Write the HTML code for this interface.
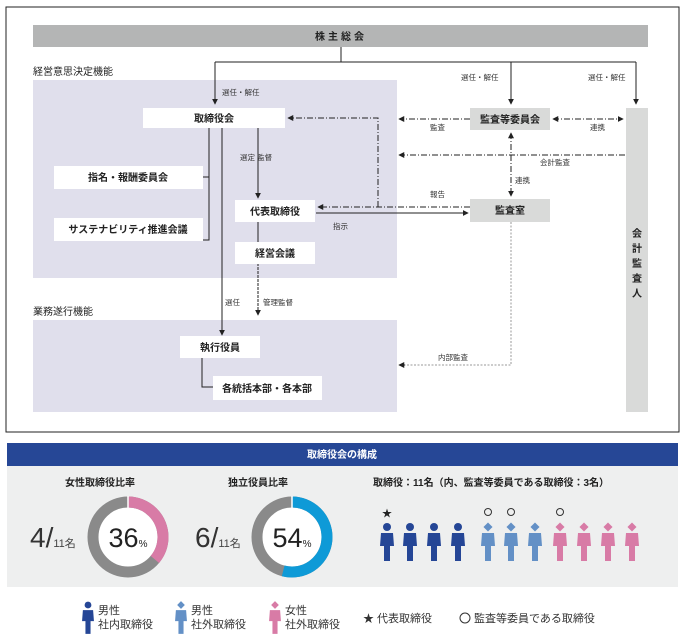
<!DOCTYPE html>
<html><head><meta charset="utf-8"><style>
body{margin:0;background:#fff;}
svg{display:block;font-family:"Liberation Sans","Noto Sans CJK JP",sans-serif;}
.b{font-size:10px;font-weight:bold;fill:#222;}
.s{font-size:7.5px;fill:#333;}
</style></head><body>
<svg width="685" height="639" viewBox="0 0 685 639" xmlns="http://www.w3.org/2000/svg">
<defs>
<marker id="a" viewBox="0 0 8 8" refX="7" refY="4" markerWidth="6" markerHeight="6" orient="auto-start-reverse"><path d="M0,0L8,4L0,8z" fill="#222"/></marker>
<g id="pm"><circle cx="0" cy="0" r="4"/><path d="M-6,6h12l1,13h-4v15h-6v-15h-4z"/></g>
<g id="pd"><rect x="-3.2" y="-3.2" width="6.4" height="6.4" transform="rotate(45)"/><path d="M-6,6h12l1,13h-4v15h-6v-15h-4z"/></g>
</defs>
<rect x="6" y="7" width="673" height="425" fill="#fff" stroke="#222" stroke-width="1"/>
<rect x="33" y="25" width="615" height="22" fill="#b4b5b5"/>
<text x="341" y="40" class="b" text-anchor="middle" letter-spacing="3">株主総会</text>
<rect x="33" y="80" width="364" height="198" fill="#e0dfec"/>
<rect x="33" y="320" width="364" height="92" fill="#e0dfec"/>
<text x="33" y="75" class="b" style="font-weight:normal">経営意思決定機能</text>
<text x="33" y="315" class="b" style="font-weight:normal">業務遂行機能</text>
<rect x="626" y="108" width="22" height="304" fill="#d9dad9"/>
<text class="b" text-anchor="middle"><tspan x="637" y="237">会</tspan><tspan x="637" y="252">計</tspan><tspan x="637" y="267">監</tspan><tspan x="637" y="282">査</tspan><tspan x="637" y="297">人</tspan></text>
<g fill="none" stroke="#222" stroke-width="1">
<path d="M341,47V62M215,62H636"/>
<path d="M215,62V104" marker-end="url(#a)"/>
<path d="M511,62V104" marker-end="url(#a)"/>
<path d="M636,62V104" marker-end="url(#a)"/>
<path d="M470,119H399" stroke-dasharray="6,2,1,2" marker-end="url(#a)"/>
<path d="M553,119H623" stroke-dasharray="6,2,1,2" marker-start="url(#a)" marker-end="url(#a)"/>
<path d="M625,155H399" stroke-dasharray="6,2,1,2" marker-end="url(#a)"/>
<path d="M511,133V196" stroke-dasharray="6,2,1,2" marker-start="url(#a)" marker-end="url(#a)"/>
<path d="M470,207H318" stroke-dasharray="6,2,1,2" marker-end="url(#a)"/>
<path d="M378,207V118H288" stroke-dasharray="6,2,1,2" marker-end="url(#a)"/>
<path d="M316,213H468" marker-end="url(#a)"/>
<path d="M258,128V198" marker-end="url(#a)"/>
<path d="M258,222V243"/>
<path d="M258,263V315" stroke-dasharray="3,1" marker-end="url(#a)"/>
<path d="M209,128V240H203M209,177H203"/>
<path d="M222,128V335" marker-end="url(#a)"/>
<path d="M202,358V387H213"/>
<path d="M511,222V365H399" stroke="#999" stroke-dasharray="2,1.5"/>
<path d="M405,365H399" marker-end="url(#a)"/>
</g>
<rect x="143" y="108" width="142" height="20" fill="#fff"/><text x="214" y="122" class="b" text-anchor="middle">取締役会</text>
<rect x="470" y="108" width="80" height="22" fill="#d9dad9"/><text x="510" y="123" class="b" text-anchor="middle">監査等委員会</text>
<rect x="54" y="166" width="149" height="23" fill="#fff"/><text x="128" y="181" class="b" text-anchor="middle">指名・報酬委員会</text>
<rect x="54" y="218" width="149" height="23" fill="#fff"/><text x="128" y="233" class="b" text-anchor="middle">サステナビリティ推進会議</text>
<rect x="235" y="200" width="80" height="22" fill="#fff"/><text x="275" y="215" class="b" text-anchor="middle">代表取締役</text>
<rect x="470" y="199" width="80" height="23" fill="#d9dad9"/><text x="510" y="214" class="b" text-anchor="middle">監査室</text>
<rect x="235" y="242" width="80" height="22" fill="#fff"/><text x="275" y="257" class="b" text-anchor="middle">経営会議</text>
<rect x="180" y="336" width="80" height="22" fill="#fff"/><text x="220" y="351" class="b" text-anchor="middle">執行役員</text>
<rect x="213" y="376" width="109" height="24" fill="#fff"/><text x="267" y="392" class="b" text-anchor="middle">各統括本部・各本部</text>
<text x="222" y="95" class="s">選任・解任</text>
<text x="461" y="80" class="s">選任・解任</text>
<text x="588" y="80" class="s">選任・解任</text>
<text x="430" y="130" class="s">監査</text>
<text x="590" y="130" class="s">連携</text>
<text x="540" y="165" class="s">会計監査</text>
<text x="515" y="183" class="s">連携</text>
<text x="430" y="197" class="s">報告</text>
<text x="333" y="229" class="s">指示</text>
<text x="240" y="160" class="s">選定 監督</text>
<text x="225" y="305" class="s">選任</text>
<text x="263" y="305" class="s">管理監督</text>
<text x="438" y="360" class="s">内部監査</text>
<rect x="7" y="443" width="671" height="23" fill="#264796"/>
<text x="342" y="458" font-size="10" font-weight="bold" fill="#fff" text-anchor="middle">取締役会の構成</text>
<rect x="7" y="466" width="671" height="121" fill="#eeefef"/>
<text x="100" y="486" class="b" text-anchor="middle">女性取締役比率</text>
<text x="258" y="486" class="b" text-anchor="middle">独立役員比率</text>
<text x="373" y="486" class="b">取締役：11名（内、監査等委員である取締役：3名）</text>
<circle cx="128" cy="537" r="35" fill="#fff"/>
<circle cx="128" cy="537" r="35" fill="none" stroke="#8a8a8a" stroke-width="11"/>
<circle cx="128" cy="537" r="35" fill="none" stroke="#d87ba6" stroke-width="11" stroke-dasharray="79.2 300" transform="rotate(-90 128 537)"/>
<line x1="128" y1="496" x2="128" y2="508" stroke="#fff" stroke-width="1.5"/>
<text x="128" y="547" font-size="27" fill="#222" text-anchor="middle">36<tspan font-size="10">%</tspan></text>
<text x="30" y="547" font-size="28" fill="#333">4/<tspan font-size="11" fill="#444">11名</tspan></text>
<circle cx="292" cy="537" r="35" fill="#fff"/>
<circle cx="292" cy="537" r="35" fill="none" stroke="#8a8a8a" stroke-width="11"/>
<circle cx="292" cy="537" r="35" fill="none" stroke="#0e9ad7" stroke-width="11" stroke-dasharray="118.7 300" transform="rotate(-90 292 537)"/>
<line x1="292" y1="496" x2="292" y2="508" stroke="#fff" stroke-width="1.5"/>
<text x="292" y="547" font-size="27" fill="#222" text-anchor="middle">54<tspan font-size="10">%</tspan></text>
<text x="195" y="547" font-size="28" fill="#333">6/<tspan font-size="11" fill="#444">11名</tspan></text>
<g fill="#254696"><use href="#pm" x="387" y="527"/><use href="#pm" x="410" y="527"/><use href="#pm" x="434" y="527"/><use href="#pm" x="458" y="527"/></g>
<g fill="#6390c6"><use href="#pd" x="488" y="527"/><use href="#pd" x="511" y="527"/><use href="#pd" x="535" y="527"/></g>
<g fill="#d87ba6"><use href="#pd" x="560" y="527"/><use href="#pd" x="584" y="527"/><use href="#pd" x="608" y="527"/><use href="#pd" x="632" y="527"/></g>
<text x="387" y="517" font-size="10" text-anchor="middle" fill="#222">★</text>
<g fill="none" stroke="#333"><circle cx="488" cy="512" r="3.5"/><circle cx="511" cy="512" r="3.5"/><circle cx="560" cy="512" r="3.5"/></g>
<g transform="translate(88,605) scale(0.85)" fill="#254696"><use href="#pm"/></g>
<g transform="translate(181,605) scale(0.85)" fill="#6390c6"><use href="#pd"/></g>
<g transform="translate(275,605) scale(0.85)" fill="#d87ba6"><use href="#pd"/></g>
<g font-size="11" fill="#333">
<text x="98" y="614">男性</text><text x="98" y="628">社内取締役</text>
<text x="191" y="614">男性</text><text x="191" y="628">社外取締役</text>
<text x="285" y="614">女性</text><text x="285" y="628">社外取締役</text>
<text x="363" y="622">★ 代表取締役</text>
<circle cx="465" cy="618" r="5" fill="none" stroke="#333"/>
<text x="474" y="622">監査等委員である取締役</text>
</g>
</svg>
</body></html>
